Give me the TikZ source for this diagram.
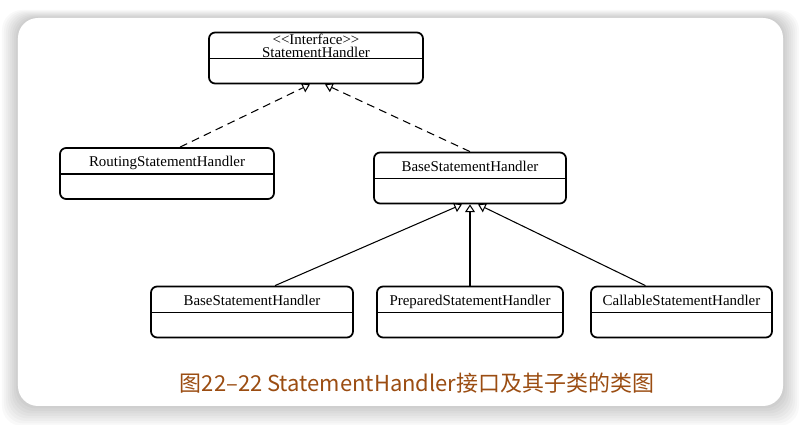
\documentclass[tikz,border=0pt]{standalone}
\usepackage{fontspec}
\setmainfont{Liberation Serif}
\newfontfamily\cjk{Noto Sans CJK SC}
\newcommand\clsHeigh{1.02cm}
\newcommand\clsTop{0.52cm}
\usetikzlibrary{positioning, arrows.meta}
\definecolor{capcol}{RGB}{155,77,18}
\tikzstyle{cls} = [rectangle, rounded corners=3.5pt, draw=black, line width=1pt, minimum height=\clsHeigh, inner ysep=0pt, text height=0.38cm, text depth=0.64cm, font=\fontsize{8.5}{7.4}\selectfont, path picture={\draw[line width=1pt] ([yshift=-\clsTop]path picture bounding box.north west) -- ([yshift=-\clsTop]path picture bounding box.north east);}]
\tikzstyle{arrow} = [line width=0.6pt, -{Triangle[open, length=4.4pt, width=5.6pt]}]
\tikzstyle{dasharrow} = [arrow, dash pattern=on 4.5pt off 3pt]

\begin{document}
\begin{tikzpicture} [node distance = 2.4cm]
% card and shadow
\fill[white] (-6.32,1.16) rectangle (9.70,-7.34);
\useasboundingbox (-6.32,1.16) rectangle (9.70,-7.34);
\foreach \i in {1,...,8}
  \fill[black, opacity=0.025, rounded corners=0.4cm] (-5.96-0.04*\i,0.8+0.02*\i) rectangle (9.34+0.04*\i,-6.96-0.05*\i);
\fill[white, rounded corners=0.4cm] (-5.96,0.8) rectangle (9.34,-6.96);

\node (iface) [cls, minimum width=4.28cm, align=center, text height=0.5cm, text depth=0.52cm] {<{}<Interface>{}>\\StatementHandler};
\node (route) [cls, minimum width=4.28cm, below of = iface, xshift=-2.98cm, yshift=0.09cm] {RoutingStatementHandler};
\node (base) [cls, minimum width=3.84cm, below of = iface, xshift=3.08cm] {BaseStatementHandler};
\node (prep) [cls, minimum width=3.72cm, below of = base, yshift=-0.28cm] {PreparedStatementHandler};
\node (sub) [cls, minimum width=4.04cm, left of = prep, xshift=-1.96cm] {BaseStatementHandler};
\node (call) [cls, minimum width=3.62cm, right of = prep, xshift=1.83cm] {CallableStatementHandler};
\node (cap) [text=capcol, font=\cjk\fontsize{12.5}{14}\selectfont] at (2.02,-6.5) {图22–22 StatementHandler接口及其子类的类图};

\draw [dasharrow] ([xshift=0.26cm]route.north) -- ([xshift=-0.12cm]iface.south);
\draw [dasharrow] (base.north) -- ([xshift=0.18cm]iface.south);
\draw [arrow] ([xshift=0.46cm]sub.north) -- ([xshift=-0.16cm]base.south);
\draw [arrow] (prep.north) -- (base.south);
\draw [arrow] ([xshift=-0.72cm]call.north) -- ([xshift=0.16cm]base.south);
\end{tikzpicture}
\end{document}
